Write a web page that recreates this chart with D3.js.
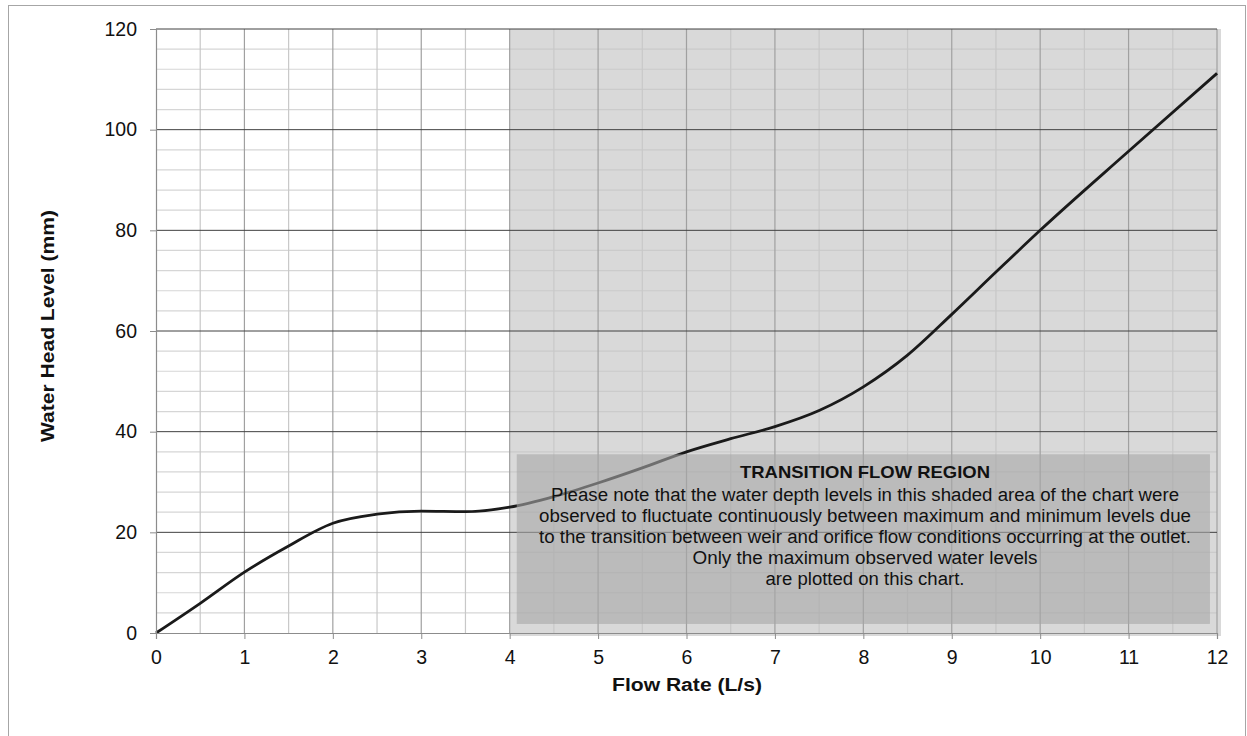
<!DOCTYPE html>
<html>
<head>
<meta charset="utf-8">
<script src="https://d3js.org/d3.v7.min.js"></script>
<style>
  body { margin: 0; background: #fff; }
  text { font-family: "Liberation Sans", Arial, sans-serif; }
</style>
</head>
<body>
<script>
// flow rate (L/s) and water head (mm)
var flowRate  = [0, 0.5, 1, 1.5, 2, 2.5, 3, 3.5, 4, 4.5, 5, 5.5, 6, 6.5, 7, 7.5, 8, 8.5, 9, 9.5, 10, 11, 12];
var headLevel = [0, 5.9, 12.1, 17.3, 21.8, 23.6, 24.2, 24.1, 25, 27.1, 29.8, 32.8, 36, 38.6, 41, 44.2, 48.9, 55.2, 63.3, 71.7, 80, 95.7, 111.2];

var xTicks = d3.range(0, 13, 1);
var yTicks = d3.range(0, 121, 20);
var xMinor = d3.range(0.5, 12, 1);
var yMinor = d3.range(4, 120, 4).filter(function(v){ return v % 20 != 0; });

var transition = [4, 12];   // shaded flow range
var noteBox = [4.08, 11.92, 1.8, 35.5]; // x0, x1, y0, y1 in data units
var noteTitle = "TRANSITION FLOW REGION";
var noteLines = [
  "Please note that the water depth levels in this shaded area of the chart were",
  "observed to fluctuate continuously  between maximum and minimum levels due",
  "to the transition between weir and orifice flow conditions occurring at the outlet.",
  "Only the maximum observed  water levels",
  "are plotted on this chart."
];

var data = flowRate.map(function(d, i){ return {x: d, y: headLevel[i]}; });

var w = 1247, h = 736;
var svg = d3.select("body").append("svg").attr("width", w).attr("height", h);

// outer chart frame
svg.append("rect").attr("x", 8.5).attr("y", 5.5).attr("width", 1237).attr("height", 740)
  .attr("fill", "none").attr("stroke", "#a6a6a6").attr("stroke-width", 1);

var xScale = d3.scaleLinear().domain([0, 12]).range([156, 1217]);
var yScale = d3.scaleLinear().domain([0, 120]).range([633, 29]);

// shaded transition region
svg.append("rect")
  .attr("x", xScale(transition[0])).attr("y", yScale(120))
  .attr("width", xScale(transition[1]) - xScale(transition[0]) + 4)
  .attr("height", yScale(0) - yScale(120) + 3)
  .attr("fill", "#d9d9d9");

// minor grid
svg.append("g").selectAll("line").data(yMinor).enter().append("line")
  .attr("x1", xScale(0)).attr("x2", xScale(12))
  .attr("y1", function(d){ return yScale(d); }).attr("y2", function(d){ return yScale(d); })
  .attr("stroke", "#c4c4c4").attr("stroke-opacity", 0.7).attr("stroke-width", 1.2);
svg.append("g").selectAll("line").data(xMinor).enter().append("line")
  .attr("y1", yScale(0)).attr("y2", yScale(120))
  .attr("x1", function(d){ return xScale(d); }).attr("x2", function(d){ return xScale(d); })
  .attr("stroke", "#c8c8c8").attr("stroke-width", 1.2);

// major grid
svg.append("g").selectAll("line").data(xTicks.slice(1)).enter().append("line")
  .attr("y1", yScale(0)).attr("y2", yScale(120))
  .attr("x1", function(d){ return xScale(d); }).attr("x2", function(d){ return xScale(d); })
  .attr("stroke", "#a0a0a0").attr("stroke-width", 1.2);
svg.append("g").selectAll("line").data(yTicks.slice(1)).enter().append("line")
  .attr("x1", xScale(0)).attr("x2", xScale(12))
  .attr("y1", function(d){ return yScale(d); }).attr("y2", function(d){ return yScale(d); })
  .attr("stroke", "#404040").attr("stroke-width", 1);

// curve
var line = d3.line().x(function(d){ return xScale(d.x); }).y(function(d){ return yScale(d.y); })
  .curve(d3.curveMonotoneX);
svg.append("path").attr("d", line(data)).attr("fill", "none")
  .attr("stroke", "#1a1a1a").attr("stroke-width", 2.8);

// note box (semi-transparent, over the curve)
svg.append("rect")
  .attr("x", xScale(noteBox[0])).attr("y", yScale(noteBox[3]))
  .attr("width", xScale(noteBox[1]) - xScale(noteBox[0]))
  .attr("height", yScale(noteBox[2]) - yScale(noteBox[3]))
  .attr("fill", "#a6a6a6").attr("fill-opacity", 0.6);

var cx = 865;
svg.append("text").attr("x", cx).attr("y", 478).attr("text-anchor", "middle")
  .attr("font-size", 17).attr("font-weight", "bold").attr("fill", "#111")
  .attr("textLength", 250).attr("lengthAdjust", "spacingAndGlyphs")
  .text(noteTitle);
var lineLens = [628, 652, 652, 345, 199];
svg.append("g").selectAll("text").data(noteLines).enter().append("text")
  .attr("x", cx).attr("y", function(d, i){ return 501 + i * 21; })
  .attr("text-anchor", "middle").attr("font-size", 18).attr("fill", "#111")
  .attr("textLength", function(d, i){ return lineLens[i]; }).attr("lengthAdjust", "spacingAndGlyphs")
  .text(function(d){ return d; });

// axes
var xAxis = d3.axisBottom(xScale).tickValues(xTicks).tickSize(6).tickPadding(11).tickFormat(d3.format("d"));
var yAxis = d3.axisLeft(yScale).tickValues(yTicks).tickSize(6).tickPadding(13).tickFormat(d3.format("d"));
var gx = svg.append("g").attr("transform", "translate(0," + yScale(0) + ")").call(xAxis);
var gy = svg.append("g").attr("transform", "translate(" + xScale(0) + ",0)").call(yAxis);
[gx, gy].forEach(function(g){
  g.attr("font-size", 19.5).attr("font-family", "Liberation Sans, Arial, sans-serif");
  g.select(".domain").attr("stroke", "#8c8c8c").attr("stroke-width", 1.2);
  g.selectAll(".tick line").attr("stroke", "#8c8c8c");
  g.selectAll(".tick text").attr("fill", "#111");
});

// axis titles
svg.append("text").attr("x", 687).attr("y", 691).attr("text-anchor", "middle")
  .attr("font-size", 18).attr("font-weight", "bold").attr("fill", "#111")
  .attr("textLength", 150).attr("lengthAdjust", "spacingAndGlyphs")
  .text("Flow Rate (L/s)");
svg.append("text").attr("transform", "translate(53.5,326) rotate(-90)").attr("text-anchor", "middle")
  .attr("font-size", 18).attr("font-weight", "bold").attr("fill", "#111")
  .attr("textLength", 232).attr("lengthAdjust", "spacingAndGlyphs")
  .text("Water Head Level (mm)");
</script>
</body>
</html>
